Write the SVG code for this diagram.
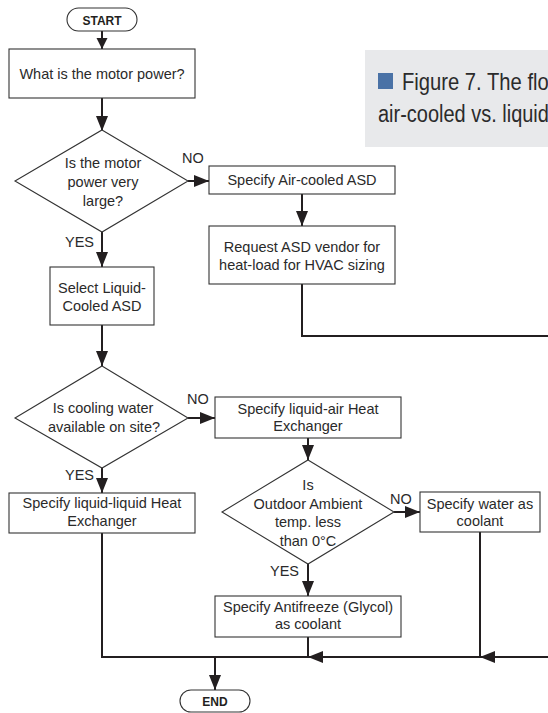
<svg xmlns="http://www.w3.org/2000/svg" width="548" height="713" viewBox="0 0 548 713">
<style>
.bx{fill:#fff;stroke:#333;stroke-width:1.1}
.t{font-family:"Liberation Sans",Arial,sans-serif;font-size:14.5px;fill:#2a2a2a;text-anchor:middle}
.lb{font-family:"Liberation Sans",Arial,sans-serif;font-size:14.5px;fill:#2a2a2a}
.tb{font-family:"Liberation Sans",Arial,sans-serif;font-size:12px;font-weight:bold;fill:#231f20;text-anchor:middle}
.c{fill:none;stroke:#231f20;stroke-width:2}
.cap{font-family:"Liberation Sans",Arial,sans-serif;font-size:23.5px;fill:#2b2b2b}
</style>
<defs>
<marker id="ah" markerUnits="userSpaceOnUse" markerWidth="16" markerHeight="12" refX="15" refY="6" orient="auto">
<path d="M0,0 L15,6 L0,12 z" fill="#231f20"/>
</marker>
<marker id="ahs" markerUnits="userSpaceOnUse" markerWidth="12" markerHeight="12" refX="11" refY="5.5" orient="auto">
<path d="M0,0 L11,5.5 L0,11 z" fill="#231f20"/>
</marker>
</defs>
<rect width="548" height="713" fill="#fff"/>
<g id="caption">
<rect x="365" y="50" width="183" height="97" fill="#e8e9eb"/>
<rect x="378" y="73" width="15" height="16" fill="#4a72a6"/>
<text class="cap" transform="translate(402,89.5) scale(0.86,1)">Figure 7. The flo</text>
<text class="cap" transform="translate(378,122) scale(0.85,1)">air-cooled vs. liquid</text>
</g>
<g id="connectors">
<path class="c" d="M102,31 L102,49" marker-end="url(#ahs)"/>
<path class="c" d="M102,98 L102,131" marker-end="url(#ah)"/>
<path class="c" d="M188,181 L209,181" marker-end="url(#ah)"/>
<path class="c" d="M102,232 L102,267" marker-end="url(#ah)"/>
<path class="c" d="M302,194 L302,226" marker-end="url(#ah)"/>
<path class="c" d="M302,284 L302,336 L548,336"/>
<path class="c" d="M102,325 L102,366" marker-end="url(#ah)"/>
<path class="c" d="M188,418 L215,418" marker-end="url(#ah)"/>
<path class="c" d="M102,468 L102,493" marker-end="url(#ah)"/>
<path class="c" d="M308,438 L308,460" marker-end="url(#ah)"/>
<path class="c" d="M394,512 L420,512" marker-end="url(#ah)"/>
<path class="c" d="M308,564 L308,596" marker-end="url(#ah)"/>
<path class="c" d="M102,533 L102,657 L308,657"/>
<path class="c" d="M308,637 L308,657"/>
<path class="c" d="M480,532 L480,657"/>
<path class="c" d="M480,657 L308,657" marker-end="url(#ah)"/>
<path class="c" d="M548,657 L480,657" marker-end="url(#ah)"/>
<path class="c" d="M215,657 L215,690" marker-end="url(#ah)"/>
</g>
<g id="start">
<rect class="bx" x="67" y="8" width="70" height="23" rx="11.5"/>
<text class="tb" x="102" y="24.5">START</text>
</g>
<g id="motor-power">
<rect class="bx" x="9" y="49" width="186" height="49"/>
<text class="t" x="102" y="78.5">What is the motor power?</text>
</g>
<g id="decision-large">
<polygon class="bx" points="102,130 188,181 102,232 15,181"/>
<text class="t" x="103" y="168">Is the motor</text>
<text class="t" x="103" y="187">power very</text>
<text class="t" x="103" y="206">large?</text>
</g>
<g id="air-cooled">
<rect class="bx" x="209" y="166" width="186" height="28"/>
<text class="t" x="302" y="185">Specify Air-cooled ASD</text>
</g>
<g id="request">
<rect class="bx" x="209" y="226" width="186" height="58"/>
<text class="t" x="302" y="252">Request ASD vendor for</text>
<text class="t" x="302" y="269.5">heat-load for HVAC sizing</text>
</g>
<g id="select-liquid">
<rect class="bx" x="50" y="267" width="104" height="58"/>
<text class="t" x="102" y="293">Select Liquid-</text>
<text class="t" x="102" y="310.5">Cooled ASD</text>
</g>
<g id="decision-water">
<polygon class="bx" points="102,366 188,418 102,468 15,418"/>
<text class="t" x="103" y="413">Is cooling water</text>
<text class="t" x="104" y="431.5">available on site?</text>
</g>
<g id="liquid-air">
<rect class="bx" x="215" y="397" width="186" height="41"/>
<text class="t" x="308" y="414">Specify liquid-air Heat</text>
<text class="t" x="308" y="431">Exchanger</text>
</g>
<g id="liquid-liquid">
<rect class="bx" x="9" y="493" width="186" height="40"/>
<text class="t" x="102" y="508">Specify liquid-liquid Heat</text>
<text class="t" x="102" y="525.5">Exchanger</text>
</g>
<g id="decision-ambient">
<polygon class="bx" points="308,460 394,512 308,564 222,512"/>
<text class="t" x="308" y="490">Is</text>
<text class="t" x="308" y="508.5">Outdoor Ambient</text>
<text class="t" x="308" y="527">temp. less</text>
<text class="t" x="308" y="545.5">than 0°C</text>
</g>
<g id="water">
<rect class="bx" x="420" y="492" width="120" height="40"/>
<text class="t" x="480" y="509">Specify water as</text>
<text class="t" x="480" y="526">coolant</text>
</g>
<g id="antifreeze">
<rect class="bx" x="215" y="596" width="186" height="41"/>
<text class="t" x="308" y="612">Specify Antifreeze (Glycol)</text>
<text class="t" x="308" y="628.5">as coolant</text>
</g>
<g id="end">
<rect class="bx" x="180" y="690" width="70" height="22" rx="11"/>
<text class="tb" x="215" y="705.5">END</text>
</g>
<g id="labels">
<text class="lb" x="182" y="163">NO</text>
<text class="lb" x="65" y="247">YES</text>
<text class="lb" x="187" y="404">NO</text>
<text class="lb" x="65" y="480">YES</text>
<text class="lb" x="390" y="504">NO</text>
<text class="lb" x="270" y="576">YES</text>
</g>
</svg>
